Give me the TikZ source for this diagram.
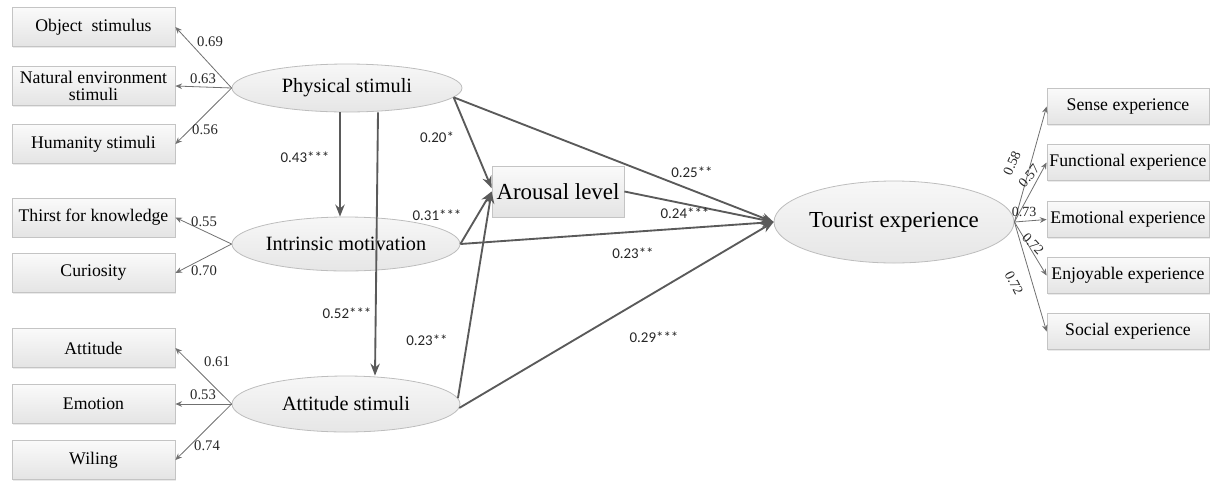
\documentclass[tikz,border=0pt]{standalone}
\usepackage{fontspec}
\setmainfont{Liberation Serif}
\newfontfamily\pathfont{Carlito}
\usetikzlibrary{arrows.meta,shapes.geometric,shadows}
\definecolor{arrowgray}{HTML}{5A5A5A}
\definecolor{thingray}{HTML}{707070}
\definecolor{boxborder}{HTML}{C4C4C4}
\definecolor{boxtop}{HTML}{FAFAFA}
\definecolor{boxbot}{HTML}{E4E4E4}
\definecolor{elltop}{HTML}{F7F7F7}
\definecolor{ellbot}{HTML}{E6E6E6}
\definecolor{ellborder}{HTML}{BDBDBD}
\begin{document}
\begin{tikzpicture}[x=0.75pt,y=-0.75pt,
  mbox/.style={rectangle, draw=boxborder, line width=0.6pt, top color=boxtop, bottom color=boxbot,
    minimum width=122.25pt, minimum height=29.25pt, inner sep=0pt,
    font=\fontsize{13.3}{14}\selectfont,
    drop shadow={shadow xshift=0.9pt, shadow yshift=-0.9pt, fill=black!16}},
  rbox/.style={mbox, minimum width=121.5pt, minimum height=27pt},
  lat/.style={ellipse, draw=ellborder, line width=0.6pt, top color=elltop, bottom color=ellbot,
    inner sep=0pt, font=\fontsize{15.2}{16}\selectfont},
  meas/.style={draw=thingray, line width=0.6pt, -{Stealth[length=5pt,width=4.2pt]}},
  struct/.style={draw=arrowgray, line width=1.4pt, -{Stealth[length=9pt,width=7pt]}},
  mlab/.style={font=\fontsize{11}{12}\selectfont, inner sep=0pt, text=black!85},
  rlab/.style={font=\fontsize{10.5}{11}\selectfont, inner sep=0pt, text=black!85},
  plab/.style={font=\pathfont\fontsize{11.2}{12}\selectfont, inner sep=0pt, text=black!85}
]
\useasboundingbox (0,0) rectangle (1210,483);

% left indicator boxes
\node[mbox] (obj) at (93.5,27) {Object\ \ stimulus};
\node[mbox, align=center, font=\fontsize{13.3}{12.5}\selectfont] (nat) at (93.5,86) {Natural environment\\stimuli};
\node[mbox] (hum) at (93.5,144) {Humanity stimuli};
\node[mbox] (thi) at (93.5,217.5) {Thirst for knowledge};
\node[mbox] (cur) at (93.5,273) {Curiosity};
\node[mbox] (atd) at (93.5,348) {Attitude};
\node[mbox] (emo) at (93.5,404) {Emotion};
\node[mbox] (wil) at (93.5,460) {Wiling};

% latent variables
\node[lat, minimum width=172.5pt, minimum height=36pt] (phys) at (347,88) {Physical stimuli};
\node[lat, minimum width=171pt, minimum height=40.5pt] (intr) at (346,244) {Intrinsic motivation};
\node[lat, minimum width=171pt, minimum height=42pt] (att) at (346,404) {Attitude stimuli};
\node[mbox, minimum width=99pt, minimum height=38.25pt, font=\fontsize{17.2}{18}\selectfont] (aro) at (558,191.5) {Arousal level};
\node[lat, minimum width=153.75pt, minimum height=61.5pt, font=\fontsize{17.2}{18}\selectfont] (tour) at (894,222) {Tourist experience};

% right indicator boxes
\node[rbox] (sen) at (1128,106.5) {Sense experience};
\node[rbox] (fun) at (1128,162.5) {Functional experience};
\node[rbox] (emx) at (1128,219.5) {Emotional experience};
\node[rbox] (enj) at (1128,275.5) {Enjoyable experience};
\node[rbox] (soc) at (1128,331.5) {Social experience};

% measurement arrows
\draw[meas] (phys.west) -- (obj.east);
\draw[meas] (phys.west) -- (nat.east);
\draw[meas] (phys.west) -- (hum.east);
\draw[meas] (intr.west) -- (thi.east);
\draw[meas] (intr.west) -- (cur.east);
\draw[meas] (att.west) -- (atd.east);
\draw[meas] (att.west) -- (emo.east);
\draw[meas] (att.west) -- (wil.east);
\draw[meas] (tour.east) -- (sen.west);
\draw[meas] (tour.east) -- (fun.west);
\draw[meas] (tour.east) -- (emx.west);
\draw[meas] (tour.east) -- (enj.west);
\draw[meas] (tour.east) -- (soc.west);

% structural arrows
\draw[struct] ([xshift=-5.25pt]phys.south) -- ([xshift=-4.5pt]intr.north);
\draw[struct] ([xshift=23.25pt]phys.south) -- ([xshift=21.75pt]att.north);
\draw[struct] (phys.-5) -- ([yshift=2.5pt]aro.west);
\draw[struct] (phys.-5) -- (tour.west);
\draw[struct] (intr.east) -- (aro.west);
\draw[struct] (intr.east) -- (tour.west);
\draw[struct] (att.3) -- (aro.west);
\draw[struct] (att.-2) -- (tour.west);
\draw[struct] (aro.east) -- (tour.west);

% measurement loadings
\node[mlab] (m1) at (210,42) {0.69};
\node[mlab] (m2) at (203,79) {0.63};
\node[mlab] (m3) at (205,130) {0.56};
\node[mlab] (m4) at (204,222) {0.55};
\node[mlab] (m5) at (204,271) {0.70};
\node[mlab] (m6) at (217,362) {0.61};
\node[mlab] (m7) at (203,395) {0.53};
\node[mlab] (m8) at (207,446) {0.74};
\node[rlab, rotate=66] (m9) at (1012,163) {0.58};
\node[rlab, rotate=50] (m10) at (1029,176) {0.57};
\node[rlab] (m11) at (1024,212) {0.73};
\node[rlab, rotate=-47] (m12) at (1033,244) {0.72};
\node[rlab, rotate=-63] (m13) at (1014,283) {0.72};

% path coefficients
\node[plab] (p1) at (305,157) {0.43***};
\node[plab] (p2) at (437,137) {0.20*};
\node[plab] (p3) at (692,172) {0.25**};
\node[plab] (p4) at (685,213) {0.24***};
\node[plab] (p5) at (437,215) {0.31***};
\node[plab] (p6) at (633,253) {0.23**};
\node[plab] (p7) at (347,313) {0.52***};
\node[plab] (p8) at (427,340) {0.23**};
\node[plab] (p9) at (654,337) {0.29***};
\end{tikzpicture}
\end{document}
